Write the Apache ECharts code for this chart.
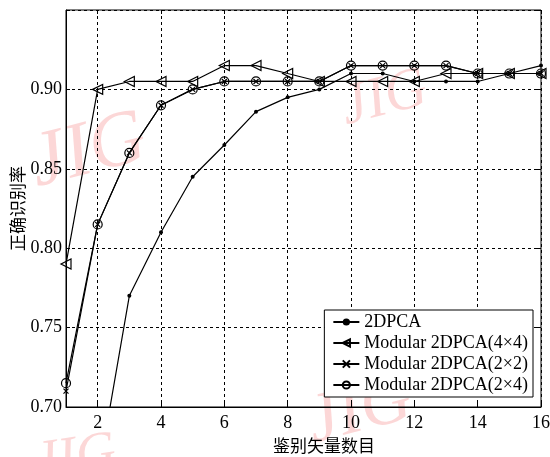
<!DOCTYPE html>
<html><head><meta charset="utf-8">
<script src="https://cdn.jsdelivr.net/npm/echarts@6/dist/echarts.min.js"></script>
<style>html,body{margin:0;padding:0;background:#fff}#c{width:550px;height:457px}</style>
</head><body><div id="c"></div>
<script>
const xValues = [1,2,3,4,5,6,7,8,9,10,11,12,13,14,15,16];
const xTickLabels = [2,4,6,8,10,12,14,16];
const yTickLabels = [0.70,0.75,0.80,0.85,0.90];
const s2DPCA = [0.60,0.655,0.77,0.81,0.845,0.865,0.886,0.895,0.90,0.91,0.91,0.905,0.905,0.905,0.91,0.915];
const sMod44 = [0.79,0.90,0.905,0.905,0.905,0.915,0.915,0.91,0.905,0.905,0.905,0.905,0.91,0.91,0.91,0.91];
const sMod22 = [0.71,0.815,0.86,0.89,0.90,0.905,0.905,0.905,0.905,0.915,0.915,0.915,0.915,0.91,0.91,0.91];
const sMod24 = [0.715,0.815,0.86,0.89,0.90,0.905,0.905,0.905,0.905,0.915,0.915,0.915,0.915,0.91,0.91,0.91];
const names = ['2DPCA','Modular 2DPCA(4×4)','Modular 2DPCA(2×2)','Modular 2DPCA(2×4)'];

const pair = arr => xValues.map((x,i)=>[x,arr[i]]);
const serif = 'Liberation Serif';
const cross = 'path://M0,0L10,10M10,0L0,10';
const chart = echarts.init(document.getElementById('c'));
const wm = (x,y,rot,size) => ({type:'text', left:x, top:y, rotation:rot, z:-1,
  style:{text:'JIG', font:'italic '+size+'px "Liberation Serif"', fill:'rgba(245,140,140,0.35)'}});
chart.setOption({
  animation:false,
  graphic:[wm(22,100,0.25,78), wm(335,60,0.25,58), wm(300,365,0.25,70), wm(30,425,0.15,55)],
  grid:{left:66,right:9,top:10,bottom:50,show:true,borderColor:'#000',borderWidth:1,z:3,outerBoundsMode:'none',containLabel:false},
  xAxis:[{type:'value',min:1,max:16,
    name:'鉴别矢量数目',nameLocation:'middle',nameGap:29,
    nameTextStyle:{fontFamily:'Noto Sans CJK SC',fontSize:17,color:'#000',padding:[0,0,0,41]},
    axisLine:{show:true,lineStyle:{color:'#000'}},
    axisTick:{show:true,inside:true,length:4,customValues:xTickLabels,lineStyle:{color:'#000'}},
    axisLabel:{customValues:xTickLabels,fontFamily:serif,fontSize:18,color:'#000',margin:7},
    splitLine:{show:true,lineStyle:{color:'#000',type:[3,3],width:1}}},
   {type:'value',min:1,max:16,position:'top',
    axisLine:{show:false},axisTick:{show:true,inside:true,length:4,customValues:xTickLabels,lineStyle:{color:'#000'}},
    axisLabel:{show:false},splitLine:{show:false}}],
  yAxis:[{type:'value',min:0.70,max:0.95,interval:0.05,
    name:'正确识别率',nameLocation:'middle',nameGap:40,nameRotate:90,nameMoveOverlap:false,
    nameTextStyle:{fontFamily:'Noto Sans CJK SC',fontSize:17,color:'#000'},
    axisLine:{show:true,lineStyle:{color:'#000'}},
    axisTick:{show:true,inside:true,length:4,lineStyle:{color:'#000'}},
    axisLabel:{fontFamily:serif,fontSize:18,color:'#000',margin:4,
      formatter:v=> v>0.94 ? '' : v.toFixed(2)},
    splitLine:{show:true,lineStyle:{color:'#000',type:[3,3],width:1}}},
   {type:'value',min:0.70,max:0.95,interval:0.05,position:'right',
    axisLine:{show:false},axisTick:{show:true,inside:true,length:4,lineStyle:{color:'#000'}},
    axisLabel:{show:false},splitLine:{show:false}}],
  legend:{right:17,bottom:60,orient:'vertical',align:'left',
    backgroundColor:'#fff',borderColor:'#000',borderWidth:1,borderRadius:0,
    padding:[3,5,3,8],itemGap:3,itemWidth:26,itemHeight:9,
    textStyle:{fontFamily:serif,fontSize:18,color:'#000'},
    data:names},
  series:[
    {name:names[0],type:'line',data:pair(s2DPCA),symbol:'circle',symbolSize:4,
      lineStyle:{color:'#000',width:1.2},itemStyle:{color:'#000'},z:5},
    {name:names[1],type:'line',data:pair(sMod44),symbol:'triangle',symbolRotate:90,symbolSize:10,
      lineStyle:{color:'#000',width:1.2},itemStyle:{color:'rgba(255,255,255,0)',borderColor:'#000',borderWidth:1.2},z:5},
    {name:names[2],type:'line',data:pair(sMod22),symbol:cross,symbolSize:5,
      lineStyle:{color:'#000',width:1.2},itemStyle:{color:'#000',borderColor:'#000',borderWidth:1.2},z:5},
    {name:names[3],type:'line',data:pair(sMod24),symbol:'circle',symbolSize:9,
      lineStyle:{color:'#000',width:1.2},itemStyle:{color:'rgba(255,255,255,0)',borderColor:'#000',borderWidth:1.2},z:5}
  ]
});
</script></body></html>
